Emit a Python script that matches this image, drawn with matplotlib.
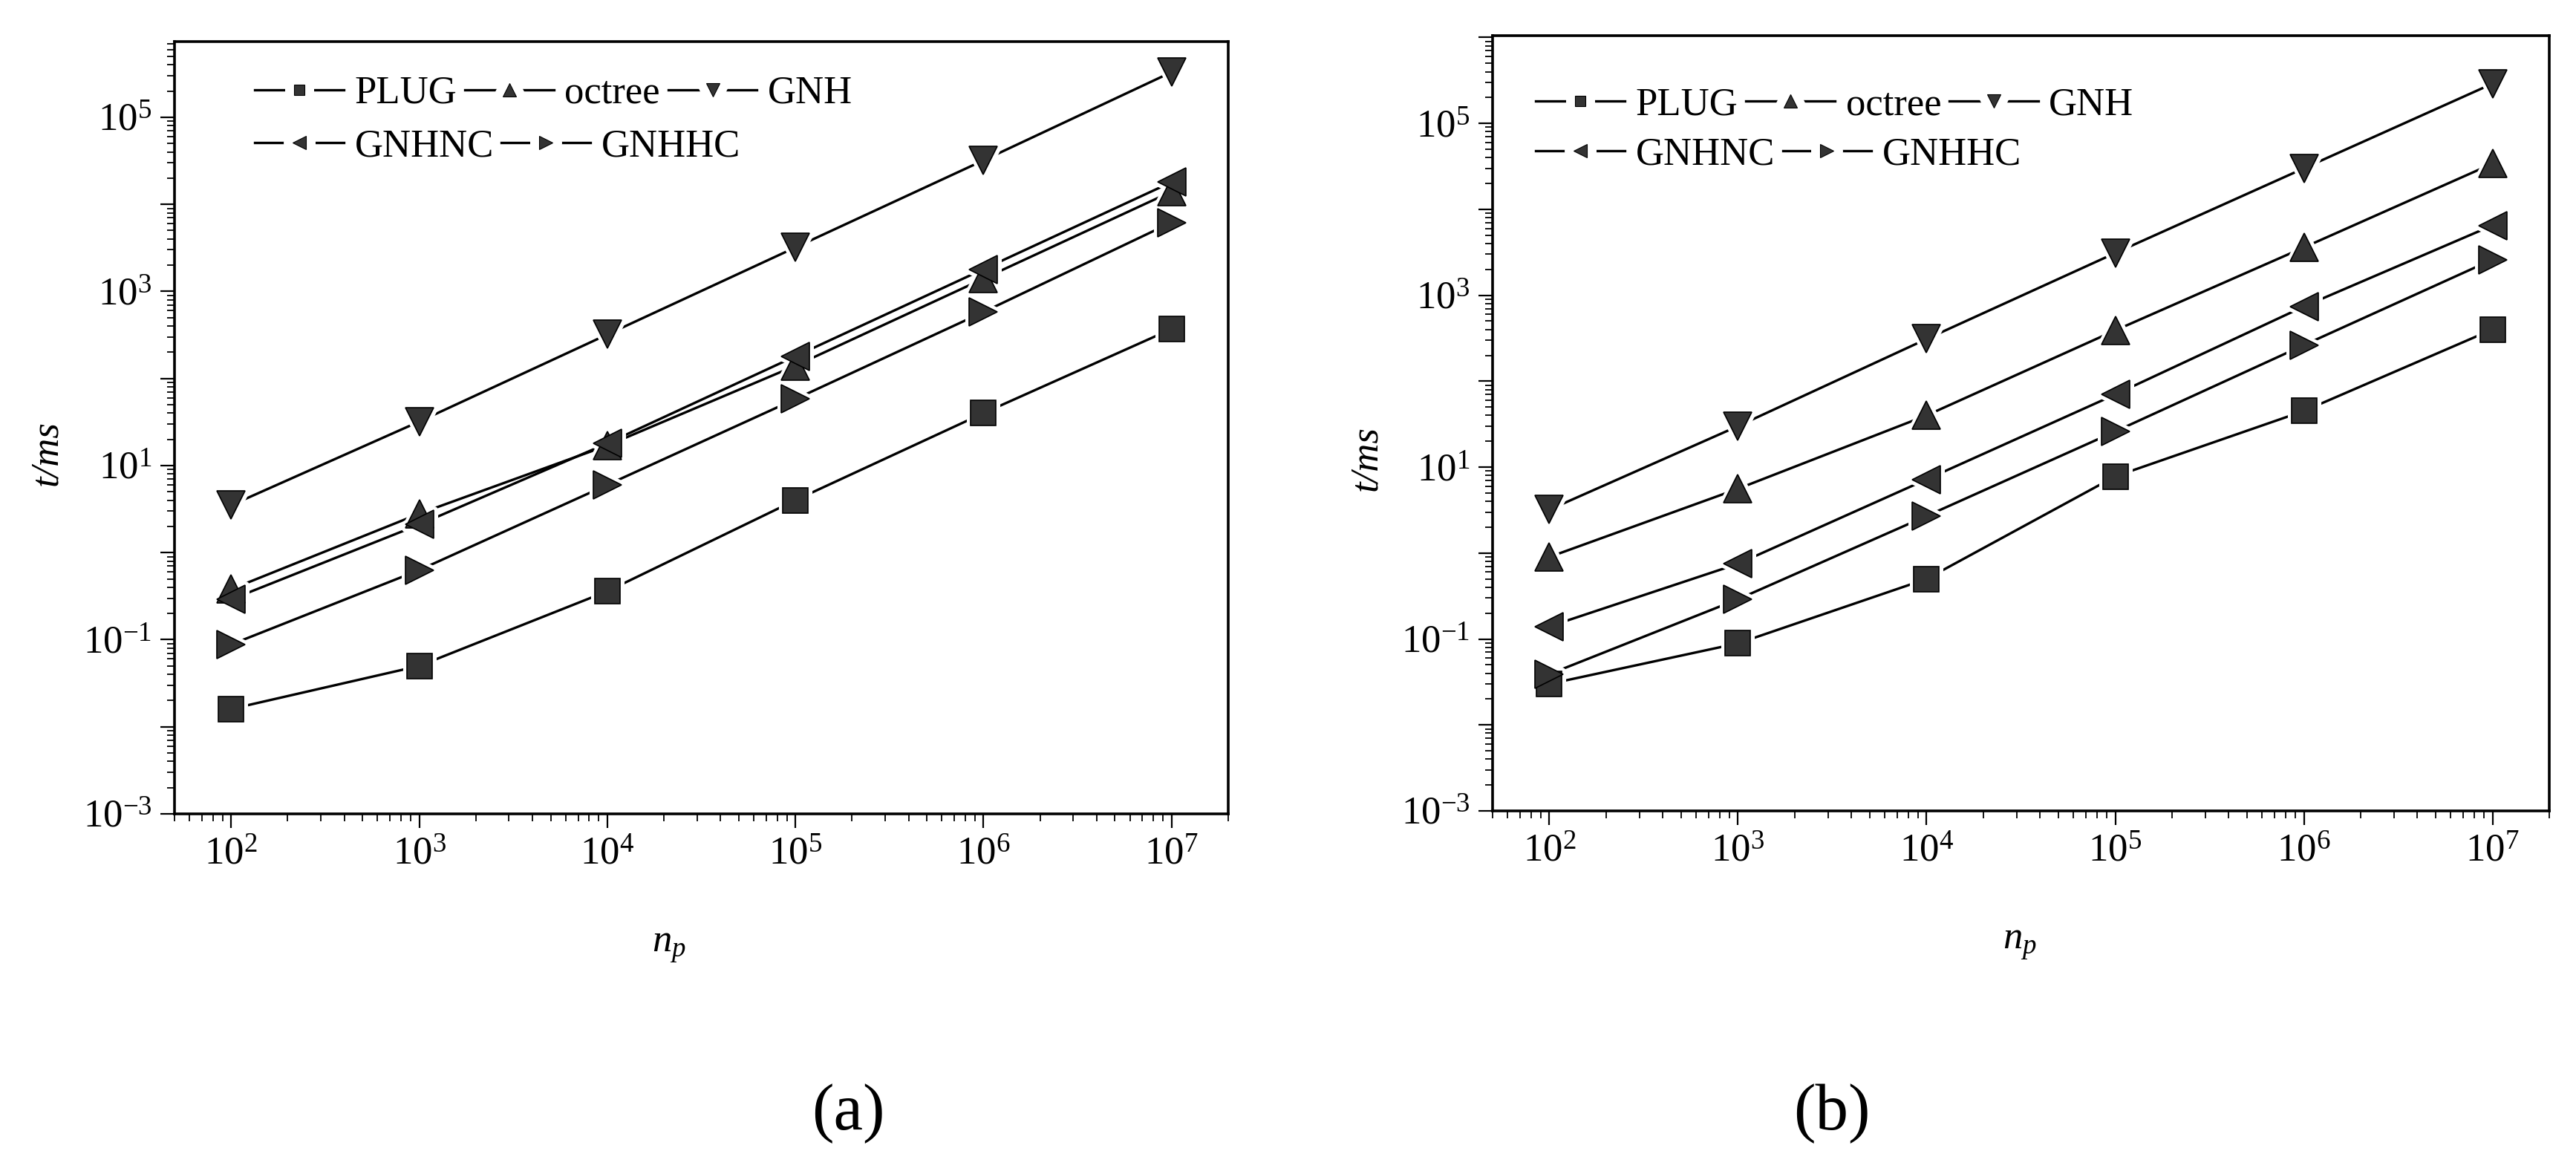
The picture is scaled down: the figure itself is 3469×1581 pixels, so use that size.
import numpy as np
import matplotlib
matplotlib.use('Agg')
import matplotlib.pyplot as plt
from matplotlib.lines import Line2D
from matplotlib.markers import MarkerStyle
from matplotlib.legend_handler import HandlerTuple
from matplotlib.ticker import LogLocator, FuncFormatter, NullFormatter

plt.rcParams['font.family'] = ['Liberation Serif', 'DejaVu Serif']
plt.rcParams['mathtext.fontset'] = 'custom'
plt.rcParams['mathtext.rm'] = 'Liberation Serif'
plt.rcParams['mathtext.it'] = 'Liberation Serif:italic'
plt.rcParams['mathtext.bf'] = 'Liberation Serif:bold'

# 数据
n_p = [1e2, 1e3, 1e4, 1e5, 1e6, 1e7]
names = ['PLUG', 'octree', 'GNH', 'GNHNC', 'GNHHC']

a_plug = [0.016, 0.05, 0.36, 4.0, 40, 370]
a_octree = [0.38, 2.8, 17, 140, 1400, 14000]
a_gnh = [3.5, 32, 320, 3200, 32000, 330000]
a_gnhnc = [0.29, 2.1, 18, 180, 1800, 18000]
a_gnhhc = [0.088, 0.63, 6.0, 58, 580, 6200]

b_plug = [0.030, 0.089, 0.50, 7.8, 45, 400]
b_octree = [0.9, 5.6, 40, 390, 3600, 34000]
b_gnh = [3.2, 30, 310, 3100, 30000, 290000]
b_gnhnc = [0.14, 0.75, 7.2, 70, 740, 6500]
b_gnhhc = [0.039, 0.29, 2.7, 26, 263, 2600]

markers = ['s', '^', 'v', '<', '>']
msizes = [24, 27, 27, 27, 27]
leg_msizes = [10, 13, 13, 13, 13]
FACE = '#333333'
FS = 38


def odd_decades(v, pos):
    e = int(round(np.log10(v)))
    if e % 2 == 0:
        return ''
    return r'$\mathdefault{10^{%d}}$' % e


def draw_panel(ax, series, ylim, leg_x, leg_y1, leg_y2, xlab_pos, ylab_pos):
    for vals, m, ms in zip(series, markers, msizes):
        ax.plot(n_p, vals, color='black', lw=2.4, zorder=2)
        ax.plot(n_p, vals, ls='none', marker=MarkerStyle(m, joinstyle='round'),
                ms=ms, mfc='white', mec='white', mew=8, zorder=3)
        ax.plot(n_p, vals, ls='none', marker=m, ms=ms, mfc=FACE,
                mec='black', mew=1.2, zorder=4)

    ax.set_xscale('log')
    ax.set_yscale('log')
    ax.set_xlim(50, 2e7)
    ax.set_ylim(*ylim)

    ax.xaxis.set_major_locator(LogLocator(base=10, numticks=30))
    ax.xaxis.set_minor_locator(LogLocator(base=10, subs=np.arange(2, 10), numticks=300))
    ax.xaxis.set_minor_formatter(NullFormatter())
    ax.yaxis.set_major_locator(LogLocator(base=10, numticks=30))
    ax.yaxis.set_minor_locator(LogLocator(base=10, subs=np.arange(2, 10), numticks=300))
    ax.yaxis.set_major_formatter(FuncFormatter(odd_decades))
    ax.yaxis.set_minor_formatter(NullFormatter())

    ax.tick_params(which='major', direction='out', length=14, width=1.6,
                   labelsize=FS, pad=8)
    ax.tick_params(which='minor', direction='out', length=7, width=1.3)
    for sp in ax.spines.values():
        sp.set_linewidth(2.6)

    ax.set_xlabel('$n_p$', fontsize=FS)
    ax.xaxis.set_label_coords(*xlab_pos)
    ax.xaxis.label.set_va('center')
    ax.set_ylabel('t/ms', fontsize=FS, fontstyle='italic')
    ax.yaxis.set_label_coords(*ylab_pos)
    ax.yaxis.label.set_va('center')

    # 图例：两行，线段在标记两侧断开
    handles = []
    for m, lms in zip(markers, leg_msizes):
        ln = Line2D([], [], color='black', lw=2.4)
        halo = Line2D([], [], ls='none', marker=MarkerStyle(m, joinstyle='round'),
                      ms=lms, mfc='white', mec='white', mew=18)
        mk = Line2D([], [], ls='none', marker=m, ms=lms, mfc=FACE,
                    mec='black', mew=0.8)
        handles.append((ln, halo, mk))

    common = dict(handler_map={tuple: HandlerTuple(ndivide=1)}, loc='center left',
                  frameon=False, handlelength=2.27, handletextpad=0.28,
                  columnspacing=0.2, borderpad=0, borderaxespad=0, fontsize=FS)
    leg1 = ax.legend(handles[:3], names[:3], ncol=3,
                     bbox_to_anchor=(leg_x, leg_y1), **common)
    ax.add_artist(leg1)
    ax.legend(handles[3:], names[3:], ncol=2,
              bbox_to_anchor=(leg_x, leg_y2), **common)


fig = plt.figure(figsize=(34.69, 15.81), dpi=100)
ax_a = fig.add_axes([0.06774, 0.30677, 0.40905, 0.65781])
ax_b = fig.add_axes([0.57942, 0.30930, 0.41020, 0.66034])

draw_panel(ax_a, [a_plug, a_octree, a_gnh, a_gnhnc, a_gnhhc], (1e-3, 7.4e5),
           0.0761, 0.9327, 0.8644, (0.469, -0.172), (-0.121, 0.467))
draw_panel(ax_b, [b_plug, b_octree, b_gnh, b_gnhnc, b_gnhhc], (1e-3, 1.05e6),
           0.0408, 0.910, 0.8467, (0.499, -0.171), (-0.119, 0.455))

fig.text(1142 / 3469, 1 - 1500 / 1581, '(a)', ha='center', va='center', fontsize=64)
fig.text(2467 / 3469, 1 - 1500 / 1581, '(b)', ha='center', va='center', fontsize=64)

fig.savefig('out.png', dpi=100)
